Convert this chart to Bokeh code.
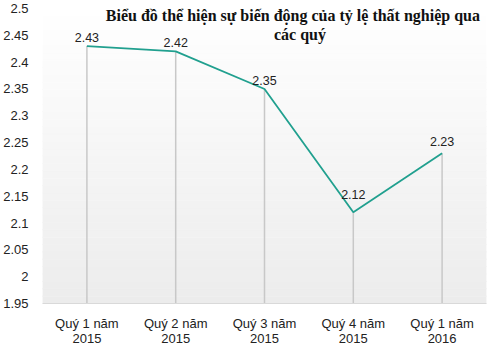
from bokeh.plotting import figure
from bokeh.models import FixedTicker, Label, ColumnDataSource, Range1d
from bokeh.core.properties import value
from bokeh.embed import file_html
from bokeh.resources import INLINE
import numpy as np

categories = ["Quý 1 năm\n2015", "Quý 2 năm\n2015", "Quý 3 năm\n2015", "Quý 4 năm\n2015", "Quý 1 năm\n2016"]
rates = [2.43, 2.42, 2.35, 2.12, 2.23]
rate_labels = ["2.43", "2.42", "2.35", "2.12", "2.23"]
y_ticks = [1.95, 2.0, 2.05, 2.1, 2.15, 2.2, 2.25, 2.3, 2.35, 2.4, 2.45, 2.5]
y_tick_labels = ["1.95", "2", "2.05", "2.1", "2.15", "2.2", "2.25", "2.3", "2.35", "2.4", "2.45", "2.5"]
title_line1 = "Biểu đồ thể hiện sự biến động của tỷ lệ thất nghiệp qua"
title_line2 = "các quý"

Y_MIN, Y_MAX = 1.95, 2.5
label_offsets = [-4, -4, -4, -13, -7]

xs = list(range(len(categories)))
X_MIN, X_MAX = -0.5, len(categories) - 0.5
src = ColumnDataSource(dict(x=xs, y=rates, lab=rate_labels, base=[Y_MIN] * len(xs), off=label_offsets))

p = figure(width=500, height=355, output_backend="svg", toolbar_location=None,
           x_range=Range1d(X_MIN, X_MAX), y_range=Range1d(Y_MIN, Y_MAX),
           min_border_left=40, min_border_right=14, min_border_top=8, min_border_bottom=52)
p.outline_line_color = None
p.background_fill_color = "white"
p.border_fill_color = "white"
p.grid.visible = False

# vertical gradient background (white -> light gray)
n = 40
edges = np.linspace(Y_MAX, Y_MIN, n + 1)
cols = []
for i in range(n):
    g = int(round(255 - (255 - 236) * (i + 0.5) / n))
    cols.append("#%02x%02x%02x" % (g, g, g))
p.quad(left=X_MIN, right=X_MAX, top=edges[:-1], bottom=edges[1:], fill_color=cols,
       line_color=cols, line_width=0.5, level="underlay")

# drop lines
p.segment(x0="x", y0="base", x1="x", y1="y", source=src, line_color="#c8c8c8", line_width=1.5)
# main line
p.line("x", "y", source=src, line_color="#21a08f", line_width=1.8)
# data labels
p.text("x", "y", text="lab", source=src, text_align="center", text_baseline="bottom", y_offset="off",
       text_font=value("Liberation Sans"), text_font_size="12.5px", text_color="#222222")

# axes
p.xaxis.ticker = FixedTicker(ticks=xs)
p.xaxis.major_label_overrides = {i: c for i, c in zip(xs, categories)}
p.xaxis.major_label_text_font = "Liberation Sans"
p.xaxis.major_label_text_font_size = "13px"
p.xaxis.major_label_text_color = "#222222"
p.xaxis.major_label_text_line_height = 1.0
p.xaxis.major_label_standoff = 6
p.xaxis.major_tick_line_color = None
p.xaxis.minor_tick_line_color = None
p.xaxis.axis_line_color = "#d9d9d9"

p.yaxis.ticker = FixedTicker(ticks=y_ticks)
p.yaxis.major_label_overrides = {t: l for t, l in zip(y_ticks, y_tick_labels)}
p.yaxis.major_label_text_font = "Liberation Sans"
p.yaxis.major_label_text_font_size = "13px"
p.yaxis.major_label_text_color = "#222222"
p.yaxis.major_label_standoff = 8
p.yaxis.major_tick_line_color = None
p.yaxis.minor_tick_line_color = None
p.yaxis.axis_line_color = None

# title overlaid in the plot
p.add_layout(Label(x=2.32, y=2.487, text=title_line1, text_align="center", text_baseline="middle",
                   text_font="Liberation Serif", text_font_style="bold", text_font_size="16px",
                   text_color="#111111", level="overlay"))
p.add_layout(Label(x=2.40, y=2.452, text=title_line2, text_align="center", text_baseline="middle",
                   text_font="Liberation Serif", text_font_style="bold", text_font_size="16px",
                   text_color="#111111", level="overlay"))

open("out.html", "w").write(file_html(p, INLINE))
